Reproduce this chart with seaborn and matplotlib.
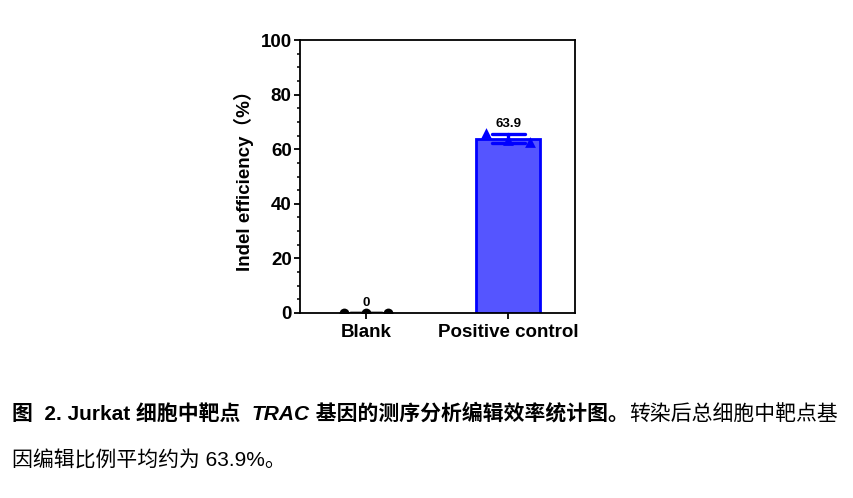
import numpy as np
import pandas as pd
import matplotlib
matplotlib.use("Agg")
import matplotlib.pyplot as plt
from matplotlib.ticker import MultipleLocator
import seaborn as sns

# data
groups = ["Blank", "Positive control"]
blank_vals = [0.0, 0.0, 0.0]
positive_vals = [65.8, 63.3, 62.6]
value_labels = ["0", "63.9"]

sns.set_theme(style="ticks")
fam = ["Liberation Sans", "Noto Sans CJK SC", "DejaVu Sans"]
plt.rcParams["font.family"] = fam
plt.rcParams["text.color"] = "black"
plt.rcParams["axes.labelcolor"] = "black"
plt.rcParams["xtick.color"] = "black"
plt.rcParams["ytick.color"] = "black"

df = pd.DataFrame(
    dict(
        group=[groups[0]] * len(blank_vals) + [groups[1]] * len(positive_vals),
        rep=list(range(len(blank_vals))) + list(range(len(positive_vals))),
        value=blank_vals + positive_vals,
    )
)

fig = plt.figure(figsize=(8.54, 4.98), dpi=100)
ax = fig.add_axes([0.3513, 0.3715, 0.322, 0.548])

sns.barplot(
    data=df, x="group", y="value", hue="group", order=groups,
    palette=["white", "#5555FF"], saturation=1, errorbar="sd", capsize=0.23,
    width=0.45, err_kws=dict(linewidth=2.4), legend=False, ax=ax,
)
for patch, g in zip(ax.patches, groups):
    if g == groups[0]:
        patch.set_linewidth(0)
    else:
        patch.set_edgecolor("#0000FF")
        patch.set_linewidth(2)
for line in ax.lines:
    line.set_color("#0000FF" if np.nanmean(line.get_xdata()) > 0.5 else "black")

# replicate points spread around each category
spread = 0.155
markers = ["o", "^"]
colors = ["black", "#0000FF"]
sizes = [50, 60]
for i, g in enumerate(groups):
    sub = df[df.group == g]
    ax.scatter(i + (sub.rep - 1) * spread, sub.value, marker=markers[i],
               color=colors[i], s=sizes[i], zorder=4, linewidths=0)

# mean labels above error bars
stats = df.groupby("group", sort=False)["value"].agg(["mean", "std"])
for i, g in enumerate(groups):
    top = stats.loc[g, "mean"] + stats.loc[g, "std"]
    ax.annotate(value_labels[i], (i, top), xytext=(0, 3), textcoords="offset points",
                ha="center", va="bottom", fontsize=9.5, fontweight="bold")

ax.set_xlim(-0.465, 1.47)
ax.set_ylim(0, 100)
ax.yaxis.set_major_locator(MultipleLocator(20))
ax.yaxis.set_minor_locator(MultipleLocator(5))
ax.set_xlabel("")
ax.set_ylabel("Indel efficiency（%）", fontsize=13.5, fontweight="bold", labelpad=5)
for s in ax.spines.values():
    s.set_linewidth(1.3)
    s.set_color("black")
ax.tick_params(axis="both", which="major", length=4, width=1.3, pad=2, labelsize=13.5)
ax.tick_params(axis="x", which="major", pad=4)
ax.tick_params(axis="y", which="minor", length=2.5, width=1.1)
for lab in ax.get_xticklabels() + ax.get_yticklabels():
    lab.set_fontweight("bold")

# caption, built piece by piece so the bold / italic runs follow each other
cap_size = 15
pieces = [
    ("图  2. Jurkat 细胞中靶点  ", "bold", "normal"),
    ("TRAC", "bold", "italic"),
    (" 基因的测序分析编辑效率统计图。", "bold", "normal"),
    ("转染后总细胞中靶点基", "normal", "normal"),
]
prev = fig.text(0.014, 0.157, pieces[0][0], fontsize=cap_size, fontweight=pieces[0][1],
                fontstyle=pieces[0][2], va="baseline", family=fam)
for txt, w, st in pieces[1:]:
    prev = ax.annotate(txt, xy=(1, 0), xycoords=prev, va="bottom", ha="left",
                       fontsize=cap_size, fontweight=w, fontstyle=st, family=fam,
                       annotation_clip=False)
fig.text(0.014, 0.062, "因编辑比例平均约为 63.9%。", fontsize=cap_size, va="baseline", family=fam)

fig.savefig("out.png", dpi=100)
